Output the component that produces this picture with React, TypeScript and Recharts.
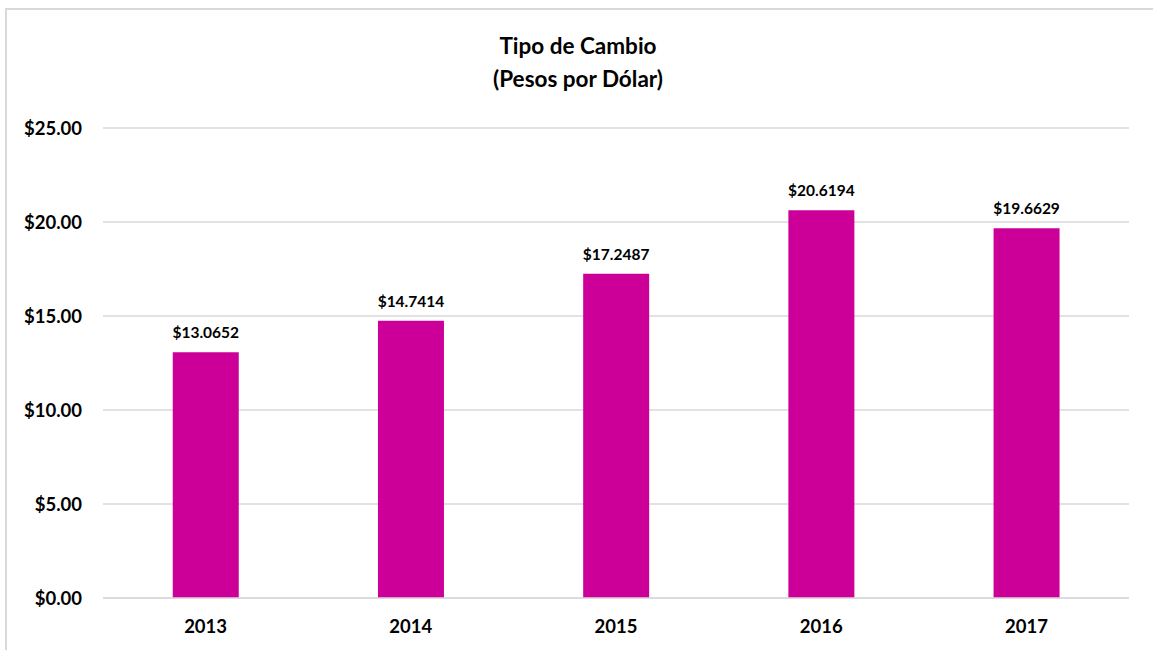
import { Bar, BarChart, CartesianGrid, LabelList, XAxis, YAxis } from 'recharts';

const YEARS = ['2013', '2014', '2015', '2016', '2017'];
const RATES = [13.0652, 14.7414, 17.2487, 20.6194, 19.6629];
const Y_TICKS = [0, 5, 10, 15, 20, 25];

const BAR_COLOR = '#cc0099';
const GRID_COLOR = '#d9d9d9';
const FONT = 'Lato, "Open Sans", sans-serif';

const data = YEARS.map((year, i) => ({ year, rate: RATES[i] }));

const money = (v: number, digits: number) => `$${v.toFixed(digits)}`;

export default function App() {
  return (
    <div style={{ position: 'relative', width: 1153, height: 650, overflow: 'hidden', fontFamily: FONT }}>
      <style>{'body{margin:0;overflow:hidden}'}</style>
      {/* chart frame, runs off the right/bottom edge like the source */}
      <div
        style={{
          position: 'absolute',
          left: 5,
          top: 8,
          width: 1170,
          height: 670,
          border: '2px solid #d9d9d9',
        }}
      />
      <div
        style={{
          position: 'absolute',
          left: 0,
          top: 29,
          width: 1156,
          textAlign: 'center',
          fontWeight: 700,
          fontSize: 22.5,
          lineHeight: '33px',
          color: '#000',
        }}
      >
        Tipo de Cambio
        <br />
        (Pesos por Dólar)
      </div>
      <div style={{ position: 'absolute', left: 0, top: 0 }}>
        <BarChart
          width={1153}
          height={650}
          data={data}
          margin={{ top: 128, right: 24, left: 0, bottom: 22 }}
          barCategoryGap="34%"
        >
          <CartesianGrid vertical={false} stroke={GRID_COLOR} strokeWidth={1.5} />
          <XAxis
            dataKey="year"
            height={30}
            axisLine={{ stroke: GRID_COLOR, strokeWidth: 1.5 }}
            tickLine={false}
            tickSize={0}
            tickMargin={22}
            tick={{ fill: '#000', fontSize: 18.5, fontWeight: 700, fontFamily: FONT }}
          />
          <YAxis
            width={103}
            domain={[0, 25]}
            ticks={Y_TICKS}
            axisLine={false}
            tickLine={false}
            tickSize={0}
            tickMargin={21}
            tickFormatter={(v: number) => money(v, 2)}
            tick={{ fill: '#000', fontSize: 18.5, fontWeight: 700, fontFamily: FONT }}
          />
          <Bar dataKey="rate" fill={BAR_COLOR} isAnimationActive={false}>
            <LabelList
              dataKey="rate"
              position="top"
              offset={14}
              formatter={(v: number) => money(v, 4)}
              style={{ fill: '#000', fontSize: 15.5, fontWeight: 700, fontFamily: FONT }}
            />
          </Bar>
        </BarChart>
      </div>
    </div>
  );
}
